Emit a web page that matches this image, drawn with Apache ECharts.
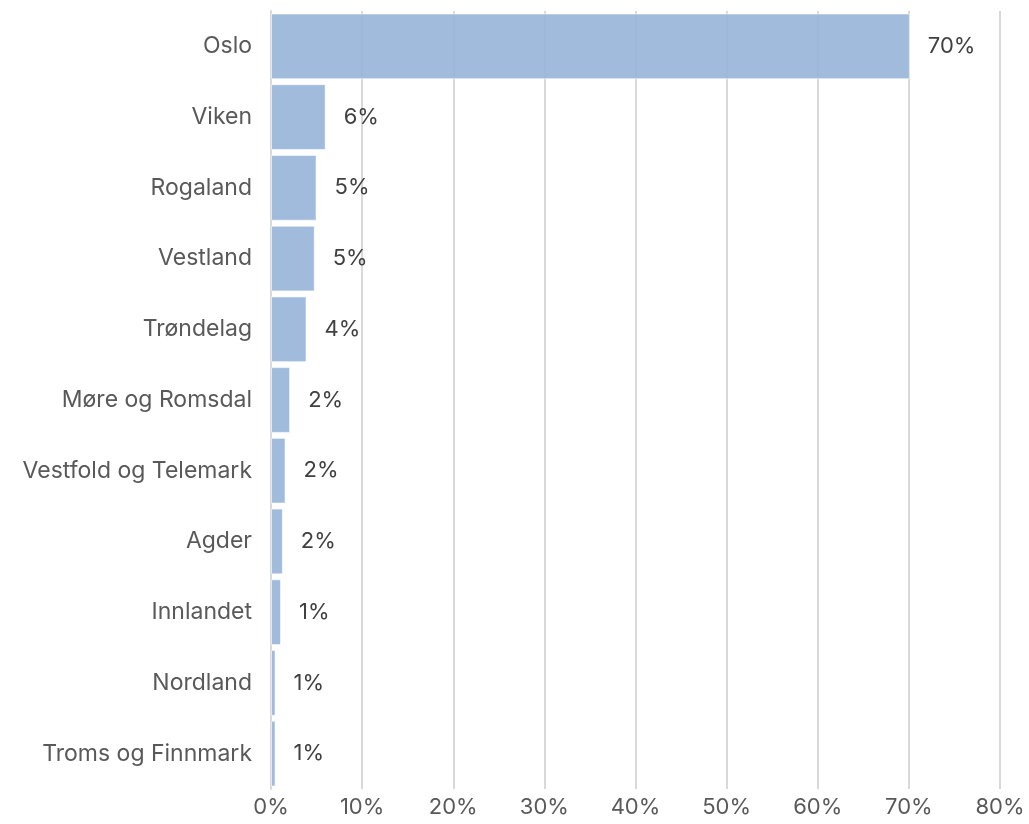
<!DOCTYPE html>
<html>
<head>
<meta charset="utf-8">
<script src="https://cdn.jsdelivr.net/npm/echarts@6/dist/echarts.min.js"></script>
<style>
  html, body { margin: 0; padding: 0; background: #fff; }
  #chart { width: 1029px; height: 824px; }
</style>
</head>
<body>
<div id="chart"></div>
<script>
// fylker, from top to bottom
const regions = [
  "Oslo", "Viken", "Rogaland", "Vestland", "Trøndelag", "Møre og Romsdal",
  "Vestfold og Telemark", "Agder", "Innlandet", "Nordland", "Troms og Finnmark"
];
// share in percent (bar lengths)
const shares = [70.1, 6.0, 5.0, 4.8, 3.9, 2.1, 1.6, 1.3, 1.1, 0.5, 0.5];
// rounded labels as printed on the chart
const shareLabels = ["70%", "6%", "5%", "5%", "4%", "2%", "2%", "2%", "1%", "1%", "1%"];
const xTicks = [0, 10, 20, 30, 40, 50, 60, 70, 80];

const chart = echarts.init(document.getElementById("chart"));
const font = "Inter, 'Noto Sans', sans-serif";

chart.setOption({
  animation: false,
  grid: { left: 271, right: 29, top: 11, bottom: 35 },
  xAxis: {
    type: "value",
    min: xTicks[0],
    max: xTicks[xTicks.length - 1],
    interval: 10,
    axisLine: { show: false },
    axisTick: { show: false },
    splitLine: { lineStyle: { color: "#d9d9d9", width: 2 } },
    axisLabel: {
      formatter: (v) => v + "%",
      color: "#595959",
      fontFamily: font,
      fontSize: 22,
      margin: 7
    }
  },
  yAxis: {
    type: "category",
    inverse: true,
    data: regions,
    axisLine: { lineStyle: { color: "#d9d9d9", width: 2 } },
    axisTick: { show: false },
    axisLabel: {
      color: "#595959",
      fontFamily: font,
      fontSize: 23,
      margin: 19
    }
  },
  series: [
    {
      type: "bar",
      data: shares,
      barCategoryGap: "7%",
      itemStyle: {
        color: "rgba(150,180,216,0.9)",
        borderColor: "rgba(255,255,255,0.6)",
        borderWidth: 1
      },
      label: {
        show: true,
        position: "right",
        distance: 18,
        color: "#404040",
        fontFamily: font,
        fontSize: 22,
        formatter: (p) => shareLabels[p.dataIndex]
      }
    }
  ]
});
</script>
</body>
</html>
